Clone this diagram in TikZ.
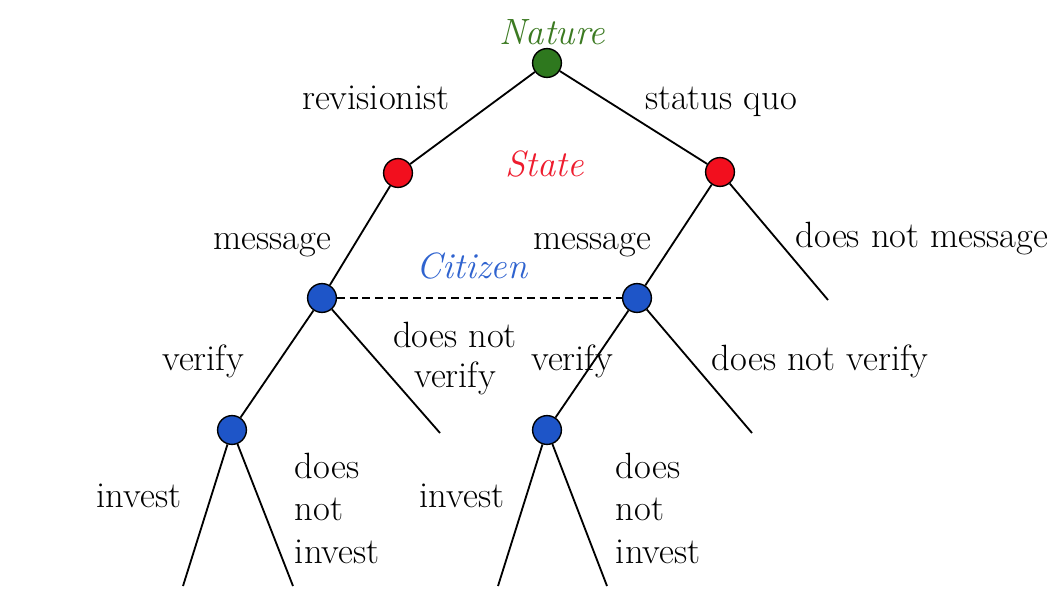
\documentclass[tikz,border=0pt]{standalone}
\definecolor{natgreen}{RGB}{46,120,30}
\definecolor{natred}{RGB}{242,15,30}
\definecolor{natblue}{RGB}{30,85,200}
\definecolor{txtgreen}{RGB}{60,122,34}
\definecolor{txtred}{RGB}{238,28,46}
\definecolor{txtblue}{RGB}{47,99,207}

\begin{document}
\begin{tikzpicture}[x=.025cm,y=-.025cm,line width=1.3pt,
  pt/.style={circle,draw,line width=1pt,minimum size=.72cm,inner sep=0pt},
  lab/.style={font=\fontsize{26}{30}\selectfont,inner sep=0pt,anchor=base},
  who/.style={lab,font=\fontsize{26}{30}\selectfont\itshape}]
\useasboundingbox(0,0)rectangle(1063,611);
% decision points
\node[pt,fill=natgreen](n)at(547,63){};
\node[pt,fill=natred](sl)at(398,173){};\node[pt,fill=natred](sr)at(720,172){};
\node[pt,fill=natblue](cl)at(322,298){};\node[pt,fill=natblue](cr)at(637,298){};
\node[pt,fill=natblue](vl)at(232,430){};\node[pt,fill=natblue](vr)at(547,430){};
% ends
\coordinate(nm)at(828,300);\coordinate(nvl)at(440,433);\coordinate(nvr)at(752,433);
\coordinate(il)at(183,586);\coordinate(dl)at(293,586);
\coordinate(ir)at(498,586);\coordinate(dr)at(607,586);
% branches
\draw(n)--(sl);\draw(n)--(sr);
\draw(sl)--(cl);\draw(sr)--(cr);\draw(sr)--(nm);
\draw(cl)--(vl);\draw(cl)--(nvl);\draw(cr)--(vr);\draw(cr)--(nvr);
\draw(vl)--(il);\draw(vl)--(dl);\draw(vr)--(ir);\draw(vr)--(dr);
\draw[dashed,dash pattern=on 5.5pt off 3.5pt](cl)--(cr);
% players
\node[who,text=txtgreen](tn)at(552,45){Nature};
\node[who,text=txtred](ts)at(545,176){State};
\node[who,text=txtblue](tc)at(472,278){Citizen};
% moves
\node[lab](a1)at(376,109){revisionist};\node[lab](a2)at(721,109){status quo};
\node[lab](b1)at(272,249){message};\node[lab](b2)at(592,249){message};
\node[lab](b3)at(922,247){does not message};
\node[lab](c1)at(203,370){verify};\node[lab](c2)at(572,370){verify};
\node[lab,align=center,font=\fontsize{26}{28}\selectfont](c3)at(455,387){does not\\verify};
\node[lab](c4)at(820,370){does not verify};
\node[lab](d1)at(139,507){invest};\node[lab](d2)at(462,507){invest};
\node[lab,anchor=base west,align=left](d3)at(294,563){does\\not\\invest};
\node[lab,anchor=base west,align=left](d4)at(615,563){does\\not\\invest};
\end{tikzpicture}
\end{document}
